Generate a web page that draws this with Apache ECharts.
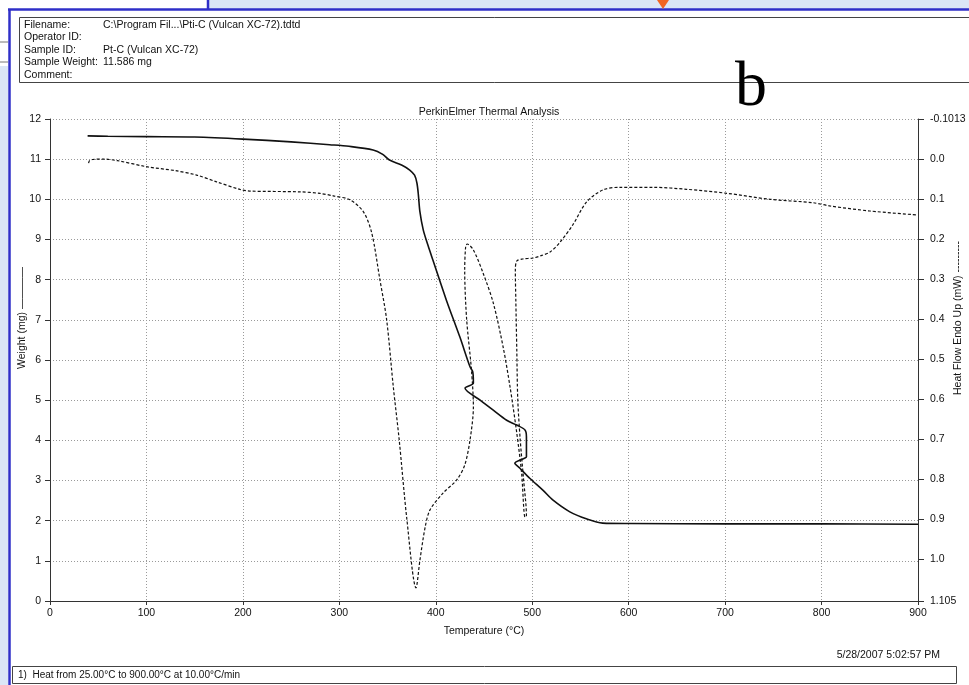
<!DOCTYPE html>
<html>
<head>
<meta charset="utf-8">
<script src="https://cdn.jsdelivr.net/npm/echarts@6/dist/echarts.min.js"></script>
<style>
  html, body { margin: 0; padding: 0; background: #fff; }
  #chart { width: 969px; height: 685px; }
</style>
</head>
<body>
<div id="chart"></div>
<script>
// Weight curve (solid): temperature (°C) and weight (mg)
const weightTemp = [39, 60, 100, 150, 200, 250, 290, 310, 335, 345, 352, 365, 373, 378, 380.5, 382, 383.5, 387, 392, 397, 411, 425, 435.5, 438.3, 439, 430.3, 446, 459.6, 473.5, 484, 492.5, 494, 494, 492.5, 482, 487, 497.7, 511, 521.6, 539, 556.8, 573, 601, 700, 800, 900];
const weightMg = [11.58, 11.57, 11.56, 11.55, 11.5, 11.43, 11.36, 11.32, 11.23, 11.12, 10.98, 10.85, 10.73, 10.6, 10.4, 10.1, 9.7, 9.24, 8.85, 8.49, 7.49, 6.57, 5.83, 5.71, 5.43, 5.3, 5.0, 4.75, 4.5, 4.38, 4.26, 4.09, 3.59, 3.56, 3.43, 3.31, 3.05, 2.76, 2.51, 2.22, 2.04, 1.94, 1.93, 1.92, 1.92, 1.91];

// Heat flow curve (dashed): temperature (°C) and heat flow (mW)
const heatTemp = [40, 41, 44, 55, 70, 100, 130, 152, 172.8, 197, 207, 259, 280, 293.7, 311, 325, 333.6, 342, 349, 356, 362, 370, 379.5, 383.6, 389, 394, 407.5, 421.7, 430, 435.5, 439, 437, 432, 430, 431, 432.6, 439, 449, 459.6, 469.8, 477, 484, 489, 492.5, 494, 491, 487.5, 485, 484, 483, 482.5, 484, 490, 501, 510, 518.5, 529, 542, 556.5, 573.5, 591, 625.6, 660, 701.7, 746.6, 791, 808.8, 850, 900];
const heatFlow = [0.009, 0.003, 0.0, -0.001, 0.003, 0.018, 0.028, 0.039, 0.056, 0.075, 0.079, 0.081, 0.085, 0.091, 0.101, 0.131, 0.184, 0.30, 0.40, 0.57, 0.70, 0.90, 1.072, 1.002, 0.92, 0.877, 0.835, 0.802, 0.765, 0.702, 0.619, 0.527, 0.40, 0.277, 0.218, 0.2115, 0.2265, 0.284, 0.359, 0.469, 0.569, 0.685, 0.785, 0.895, 0.892, 0.80, 0.70, 0.60, 0.477, 0.352, 0.277, 0.254, 0.249, 0.2466, 0.24, 0.2315, 0.2065, 0.164, 0.106, 0.076, 0.0696, 0.0696, 0.0746, 0.0846, 0.0997, 0.1082, 0.1164, 0.1289, 0.139];

// Right axis tick values
const heatTicks = [-0.1013, 0, 0.1, 0.2, 0.3, 0.4, 0.5, 0.6, 0.7, 0.8, 0.9, 1.0, 1.105];

const headerLabels = ["Filename:", "Operator ID:", "Sample ID:", "Sample Weight:", "Comment:"];
const headerValues = ["C:\\Program Fil...\\Pti-C (Vulcan XC-72).tdtd", "", "Pt-C (Vulcan XC-72)", "11.586 mg", ""];

const font = "'Liberation Sans', Arial, sans-serif";
const ink = "#111";

const chart = echarts.init(document.getElementById("chart"));

// Header rows
const headerGraphics = [];
headerLabels.forEach((label, i) => {
  const y = 25 + i * 12.5;
  headerGraphics.push({
    type: "text", x: 24, y: y,
    style: { text: label, font: "10.5px " + font, fill: ink, verticalAlign: "middle" }
  });
  headerGraphics.push({
    type: "text", x: 103, y: y,
    style: { text: headerValues[i], font: "10.5px " + font, fill: ink, verticalAlign: "middle" }
  });
});

const option = {
  backgroundColor: "#fff",
  animation: false,
  title: {
    text: "PerkinElmer Thermal Analysis",
    left: 484, top: 102, textAlign: "center",
    textStyle: { fontFamily: font, fontSize: 10.5, fontWeight: "normal", color: ink }
  },
  grid: { left: 50, right: 51, top: 119, bottom: 84 },
  xAxis: {
    type: "value", min: 0, max: 900, interval: 100,
    name: "Temperature (°C)", nameLocation: "middle", nameGap: 25,
    nameTextStyle: { fontFamily: font, fontSize: 10.5, color: ink },
    axisLine: { lineStyle: { color: "#333", width: 1 } },
    axisTick: { show: true, length: 4, lineStyle: { color: "#333" } },
    axisLabel: { fontFamily: font, fontSize: 10.5, color: ink, margin: 7 },
    splitLine: { show: true, lineStyle: { color: "#9a9a9a", type: [1, 2], width: 1 } }
  },
  yAxis: [
    {
      type: "value", min: 0, max: 12, interval: 1, position: "left",
      axisLine: { show: true, lineStyle: { color: "#333", width: 1 } },
      axisTick: { show: true, length: 5, lineStyle: { color: "#333" } },
      axisLabel: { fontFamily: font, fontSize: 10.5, color: ink, margin: 9 },
      splitLine: { show: true, lineStyle: { color: "#9a9a9a", type: [1, 2], width: 1 } }
    },
    {
      type: "value", min: -0.1013, max: 1.105, inverse: true, position: "right",
      axisLine: { show: true, lineStyle: { color: "#333", width: 1 } },
      axisTick: { show: true, length: 6, customValues: heatTicks, lineStyle: { color: "#333" } },
      axisLabel: {
        fontFamily: font, fontSize: 10.5, color: ink, margin: 12,
        customValues: heatTicks,
        formatter: (v) => {
          if (Math.abs(v + 0.1013) < 1e-6) return "-0.1013";
          if (Math.abs(v - 1.105) < 1e-6) return "1.105";
          return v.toFixed(1);
        }
      },
      splitLine: { show: false }
    }
  ],
  series: [
    {
      name: "Weight", type: "line", yAxisIndex: 0,
      data: weightTemp.map((t, i) => [t, weightMg[i]]),
      showSymbol: false, smooth: 0.3,
      lineStyle: { color: ink, width: 1.6 }
    },
    {
      name: "Heat Flow", type: "line", yAxisIndex: 1,
      data: heatTemp.map((t, i) => [t, heatFlow[i]]),
      showSymbol: false, smooth: 0.3,
      lineStyle: { color: ink, width: 1.2, type: [3, 2] }
    }
  ],
  graphic: [
    // slide background strips and blue frame
    { type: "rect", shape: { x: 208, y: 0, width: 761, height: 9 }, style: { fill: "#dbe6f6" } },
    { type: "rect", shape: { x: 0, y: 66, width: 8, height: 619 }, style: { fill: "#dbe6f6" } },
    { type: "line", shape: { x1: 0, y1: 42, x2: 8, y2: 42 }, style: { stroke: "#777", lineWidth: 1 } },
    { type: "line", shape: { x1: 0, y1: 62, x2: 8, y2: 62 }, style: { stroke: "#777", lineWidth: 1 } },
    { type: "line", shape: { x1: 8, y1: 9.5, x2: 969, y2: 9.5 }, style: { stroke: "#2f2fc8", lineWidth: 2.5 } },
    { type: "line", shape: { x1: 208, y1: 0, x2: 208, y2: 9 }, style: { stroke: "#2f2fc8", lineWidth: 2.5 } },
    { type: "line", shape: { x1: 9.5, y1: 9, x2: 9.5, y2: 685 }, style: { stroke: "#2f2fc8", lineWidth: 2.5 } },
    { type: "polygon", shape: { points: [[657, 0], [669, 0], [663, 9]] }, style: { fill: "#f26522" } },
    // header box
    { type: "rect", shape: { x: 19.5, y: 17.5, width: 960, height: 65 }, style: { fill: null, stroke: "#444", lineWidth: 1 } },
    ...headerGraphics,
    // panel letter
    { type: "text", x: 735, y: 88, style: { text: "b", font: "64px 'Liberation Serif', 'Times New Roman', serif", fill: "#000", verticalAlign: "middle" } },
    // axis titles
    { type: "text", x: 22, y: 318, rotation: Math.PI / 2,
      style: { text: "Weight (mg) ————", font: "10.5px " + font, fill: ink, align: "center", verticalAlign: "middle" } },
    { type: "text", x: 958, y: 318, rotation: Math.PI / 2,
      style: { text: "Heat Flow Endo Up (mW) ---------", font: "10.5px " + font, fill: ink, align: "center", verticalAlign: "middle" } },
    // footer
    { type: "text", x: 940, y: 655, style: { text: "5/28/2007 5:02:57 PM", font: "10.5px " + font, fill: ink, align: "right", verticalAlign: "middle" } },
    { type: "rect", shape: { x: 12.5, y: 666.5, width: 944, height: 17 }, style: { fill: null, stroke: "#444", lineWidth: 1 } },
    { type: "text", x: 18, y: 675, style: { text: "1)  Heat from 25.00°C to 900.00°C at 10.00°C/min", font: "10px " + font, fill: ink, verticalAlign: "middle" } }
  ]
};

chart.setOption(option);
window.addEventListener("resize", () => chart.resize());
</script>
</body>
</html>
